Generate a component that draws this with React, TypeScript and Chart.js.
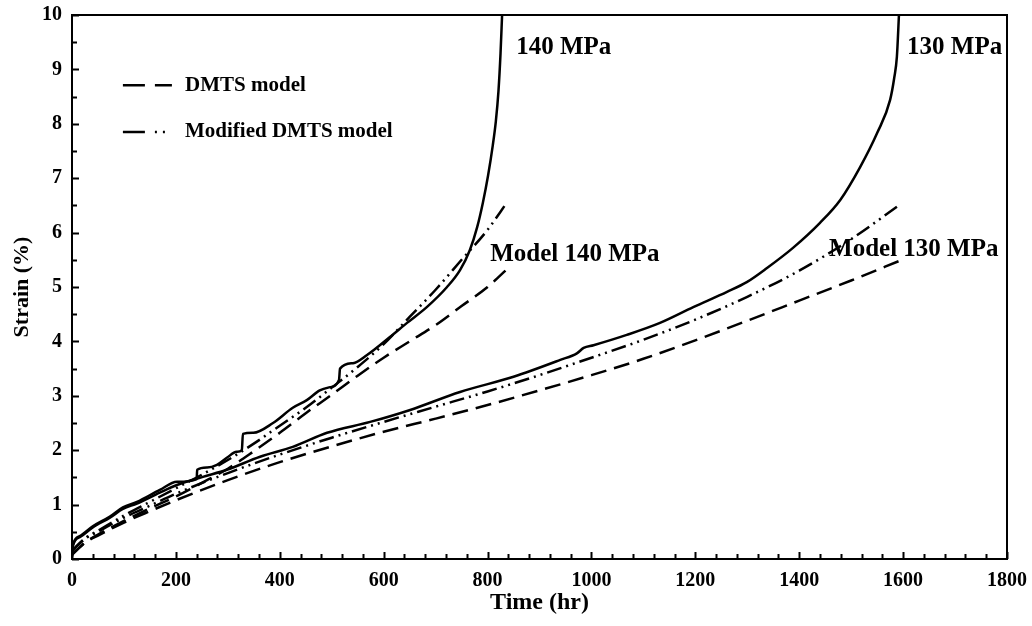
import React, { useEffect, useRef } from "react";
import { Chart, registerables } from "chart.js";

Chart.register(...registerables);

// ---- Data (time in hr, strain in %) ----
const exp140Time = [0, 2, 15, 40, 73, 98, 125, 169, 202, 240, 241, 260, 279, 298, 317, 327, 329, 349, 387, 425, 452, 477, 497, 514, 516, 541, 568, 612, 645, 683, 722, 747, 766, 780, 791, 801, 810, 816, 821, 825, 828];
const exp140Strain = [0.05, 0.27, 0.42, 0.6, 0.78, 0.95, 1.05, 1.27, 1.42, 1.47, 1.64, 1.68, 1.73, 1.86, 1.97, 2.0, 2.3, 2.32, 2.5, 2.78, 2.92, 3.1, 3.16, 3.29, 3.5, 3.6, 3.75, 4.08, 4.34, 4.63, 5.0, 5.31, 5.68, 6.1, 6.55, 7.05, 7.6, 8.05, 8.6, 9.3, 10];

const exp130Time = [0, 2, 15, 40, 73, 98, 125, 169, 202, 252, 298, 362, 425, 491, 574, 651, 747, 850, 940, 972, 985, 1004, 1068, 1132, 1196, 1261, 1299, 1338, 1388, 1440, 1479, 1517, 1550, 1575, 1583, 1588, 1592];
const exp130Strain = [0.05, 0.25, 0.4, 0.58, 0.76, 0.92, 1.02, 1.22, 1.36, 1.51, 1.64, 1.88, 2.06, 2.32, 2.52, 2.74, 3.07, 3.35, 3.66, 3.78, 3.88, 3.93, 4.12, 4.34, 4.63, 4.91, 5.09, 5.35, 5.72, 6.18, 6.6, 7.2, 7.83, 8.44, 8.85, 9.23, 10];

const dmts140Time = [0, 25, 50, 100, 150, 200, 250, 300, 350, 400, 450, 500, 550, 600, 650, 700, 750, 800, 840];
const dmts140Strain = [0.08, 0.3, 0.45, 0.7, 0.93, 1.15, 1.4, 1.66, 1.98, 2.32, 2.68, 3.02, 3.37, 3.7, 4.0, 4.3, 4.65, 5.0, 5.35];

const mod140Time = [0, 25, 50, 100, 150, 200, 250, 300, 350, 400, 450, 500, 550, 600, 650, 700, 750, 800, 837];
const mod140Strain = [0.15, 0.38, 0.52, 0.8, 1.05, 1.3, 1.55, 1.82, 2.12, 2.45, 2.78, 3.15, 3.53, 3.95, 4.45, 4.95, 5.5, 6.05, 6.55];

const dmts130Time = [0, 25, 50, 100, 150, 200, 300, 400, 500, 600, 700, 800, 900, 1000, 1100, 1200, 1300, 1400, 1500, 1598];
const dmts130Strain = [0.08, 0.3, 0.43, 0.67, 0.88, 1.08, 1.45, 1.78, 2.07, 2.34, 2.58, 2.83, 3.1, 3.38, 3.68, 4.02, 4.38, 4.75, 5.12, 5.5];

const mod130Time = [0, 25, 50, 100, 150, 200, 300, 400, 500, 600, 700, 800, 900, 1000, 1100, 1200, 1300, 1400, 1500, 1592];
const mod130Strain = [0.15, 0.37, 0.5, 0.76, 0.98, 1.2, 1.58, 1.92, 2.23, 2.52, 2.8, 3.08, 3.38, 3.7, 4.03, 4.4, 4.82, 5.3, 5.88, 6.5];

const legendLabels = ["DMTS model", "Modified DMTS model"];
const curveLabels = ["140 MPa", "130 MPa", "Model 140 MPa", "Model 130 MPa"];

const FONT = "'Liberation Serif', 'Times New Roman', serif";
const DASH = [16, 8];
const DASH_DOT = [15, 5, 2, 5, 2, 5];

const toPoints = (t: number[], s: number[]) => t.map((x, i) => ({ x, y: s[i] }));

const decorPlugin = {
  id: "decor",
  afterDraw(chart: any) {
    const { ctx, chartArea } = chart;
    const xs = chart.scales.x;
    const ys = chart.scales.y;
    const { left, right, top, bottom } = chartArea;
    ctx.save();
    ctx.strokeStyle = "#000";
    ctx.fillStyle = "#000";
    // frame
    ctx.lineWidth = 2;
    ctx.setLineDash([]);
    ctx.strokeRect(left, top, right - left, bottom - top);
    // inward ticks
    ctx.beginPath();
    for (let v = 0; v <= 1800; v += 40) {
      const px = Math.round(xs.getPixelForValue(v)) + 0.5;
      const len = v % 200 === 0 ? 7 : 5;
      ctx.moveTo(px, bottom);
      ctx.lineTo(px, bottom - len);
    }
    for (let k = 0; k <= 20; k++) {
      const v = k * 0.5;
      const py = Math.round(ys.getPixelForValue(v)) + 0.5;
      const len = k % 2 === 0 ? 7 : 5;
      ctx.moveTo(left, py);
      ctx.lineTo(left + len, py);
    }
    ctx.stroke();

    // legend
    ctx.lineWidth = 2.5;
    const lx = xs.getPixelForValue(98);
    const ly1 = ys.getPixelForValue(8.71);
    const ly2 = ys.getPixelForValue(7.85);
    ctx.setLineDash([22, 10]);
    ctx.beginPath();
    ctx.moveTo(lx, ly1);
    ctx.lineTo(lx + 49, ly1);
    ctx.stroke();
    ctx.setLineDash([22, 10, 2, 6, 2, 40]);
    ctx.beginPath();
    ctx.moveTo(lx, ly2);
    ctx.lineTo(lx + 43, ly2);
    ctx.stroke();
    ctx.setLineDash([]);
    ctx.font = `bold 21px ${FONT}`;
    ctx.textBaseline = "middle";
    ctx.textAlign = "left";
    const tx = xs.getPixelForValue(217.6);
    ctx.fillText(legendLabels[0], tx, ly1);
    ctx.fillText(legendLabels[1], tx, ly2);

    // curve labels
    ctx.font = `bold 25px ${FONT}`;
    const pos = [
      [855, 9.41],
      [1607.6, 9.41],
      [805, 5.59],
      [1457.4, 5.68],
    ];
    curveLabels.forEach((txt, i) => {
      ctx.fillText(txt, xs.getPixelForValue(pos[i][0]), ys.getPixelForValue(pos[i][1]));
    });
    ctx.restore();
  },
};

export default function App() {
  const ref = useRef<HTMLCanvasElement | null>(null);
  useEffect(() => {
    if (!ref.current) return;
    const solid = {
      borderColor: "#000",
      borderWidth: 2.5,
      pointRadius: 0,
      cubicInterpolationMode: "monotone",
      fill: false,
    };
    const hiddenGrid = {
      display: true,
      drawOnChartArea: false,
      drawTicks: true,
      tickLength: 10,
      tickColor: "rgba(0,0,0,0)",
      color: "rgba(0,0,0,0)",
    };
    const tickFont = { family: FONT, size: 20, weight: "bold" };
    const chart = new Chart(ref.current, {
      type: "line",
      data: {
        datasets: [
          { label: "140 MPa", data: toPoints(exp140Time, exp140Strain), ...solid },
          { label: "130 MPa", data: toPoints(exp130Time, exp130Strain), ...solid },
          { label: "DMTS 140", data: toPoints(dmts140Time, dmts140Strain), ...solid, borderDash: DASH },
          { label: "Modified 140", data: toPoints(mod140Time, mod140Strain), ...solid, borderDash: DASH_DOT },
          { label: "DMTS 130", data: toPoints(dmts130Time, dmts130Strain), ...solid, borderDash: DASH },
          { label: "Modified 130", data: toPoints(mod130Time, mod130Strain), ...solid, borderDash: DASH_DOT },
        ],
      },
      options: {
        responsive: false,
        animation: false,
        layout: { padding: { left: 5, right: 25, top: 15, bottom: 5 } },
        plugins: { legend: { display: false }, tooltip: { enabled: false } },
        scales: {
          x: {
            type: "linear",
            min: 0,
            max: 1800,
            afterFit: (s: any) => { s.height = 62; },
            grid: hiddenGrid,
            border: { display: false },
            ticks: { stepSize: 200, padding: 0, color: "#000", font: tickFont, maxRotation: 0, callback: (v: any) => String(v) },
            title: { display: true, text: "Time (hr)", color: "#000", font: { family: FONT, size: 24, weight: "bold" } },
          },
          y: {
            type: "linear",
            min: 0,
            max: 10,
            afterFit: (s: any) => { s.width = 67; },
            grid: hiddenGrid,
            border: { display: false },
            ticks: { stepSize: 1, padding: 0, color: "#000", font: tickFont, callback: (v: any) => String(v) },
            title: { display: true, text: "Strain (%)", color: "#000", font: { family: FONT, size: 22, weight: "bold" } },
          },
        },
      },
      plugins: [decorPlugin],
    } as any);
    return () => chart.destroy();
  }, []);
  return (
    <div style={{ position: "fixed", left: 0, top: 0, width: 1032, height: 626, background: "#fff" }}>
      <canvas ref={ref} width={1032} height={626} style={{ display: "block" }} />
    </div>
  );
}
